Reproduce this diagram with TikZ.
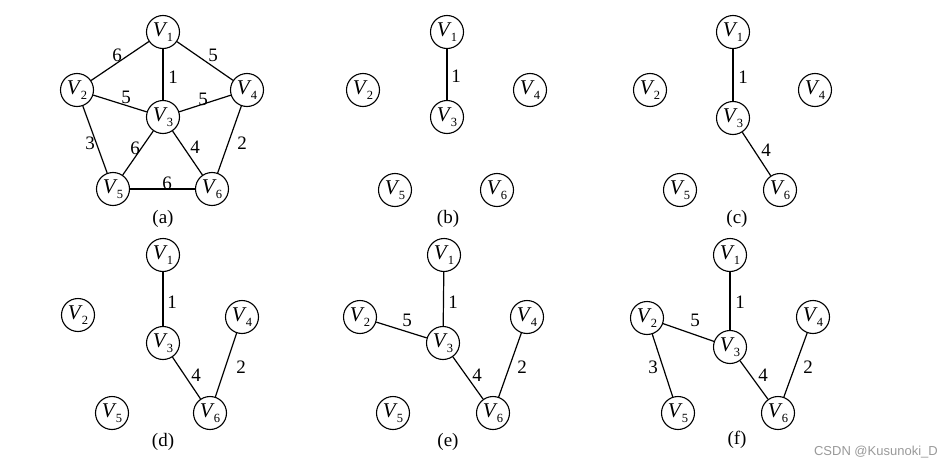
\documentclass[tikz,border=0pt]{standalone}
\usepackage{fontspec}
\setmainfont{Liberation Serif}
\newfontfamily\wmfont{Liberation Sans}
\newcommand{\vx}[1]{\textit{V}\kern-1pt\raisebox{-5pt}{\fontsize{12.5}{13}\selectfont #1}}
\begin{document}
\begin{tikzpicture}[x=1pt,y=-1pt,
  vnode/.style={circle,draw,line width=1.1pt,minimum size=33pt,inner sep=0pt,font=\fontsize{21}{22}\selectfont},
  edge/.style={line width=1.2pt},
  lbl/.style={font=\fontsize{19}{20}\selectfont,inner sep=0pt},
  panelcap/.style={font=\fontsize{19}{20}\selectfont,inner sep=0pt},
  wm/.style={font=\wmfont\fontsize{13}{14}\selectfont,text=black!40,inner sep=0pt}]
\useasboundingbox (0,0) rectangle (943,471);
% ---------- (a)
\node[vnode] (a1) at (163,32) {\vx{1}};
\node[vnode] (a2) at (77,90) {\vx{2}};
\node[vnode] (a3) at (163,117) {\vx{3}};
\node[vnode] (a4) at (247,90) {\vx{4}};
\node[vnode] (a5) at (113,189) {\vx{5}};
\node[vnode] (a6) at (212,189) {\vx{6}};
\draw[edge] (a1) -- (a2); \draw[edge] (a1) -- (a4); \draw[edge] (a1) -- (a3);
\draw[edge] (a2) -- (a3); \draw[edge] (a3) -- (a4); \draw[edge] (a2) -- (a5);
\draw[edge] (a3) -- (a5); \draw[edge] (a3) -- (a6); \draw[edge] (a4) -- (a6);
\draw[edge] (a5) -- (a6);
\node[lbl] (la12) at (117,55) {6};
\node[lbl] (la14) at (213,55) {5};
\node[lbl] (la13) at (173,77) {1};
\node[lbl] (la23) at (126,97) {5};
\node[lbl] (la34) at (203,99) {5};
\node[lbl] (la25) at (90,143) {3};
\node[lbl] (la35) at (135,148) {6};
\node[lbl] (la36) at (195,147) {4};
\node[lbl] (la46) at (242,143) {2};
\node[lbl] (la56) at (167,183) {6};
\node[panelcap] (ca) at (163,219) {(a)};
% ---------- (b)
\node[vnode] (b1) at (447,32) {\vx{1}};
\node[vnode] (b2) at (363,90) {\vx{2}};
\node[vnode] (b3) at (447,117) {\vx{3}};
\node[vnode] (b4) at (530,90) {\vx{4}};
\node[vnode] (b5) at (395,190) {\vx{5}};
\node[vnode] (b6) at (497,190) {\vx{6}};
\draw[edge] (b1) -- (b3);
\node[lbl] (lb13) at (456,76) {1};
\node[panelcap] (cb) at (448,219) {(b)};
% ---------- (c)
\node[vnode] (c1) at (733,32) {\vx{1}};
\node[vnode] (c2) at (650,90) {\vx{2}};
\node[vnode] (c3) at (733,118) {\vx{3}};
\node[vnode] (c4) at (815,90) {\vx{4}};
\node[vnode] (c5) at (680,190) {\vx{5}};
\node[vnode] (c6) at (780,190) {\vx{6}};
\draw[edge] (c1) -- (c3); \draw[edge] (c3) -- (c6);
\node[lbl] (lc13) at (743,77) {1};
\node[lbl] (lc36) at (766,150) {4};
\node[panelcap] (cc) at (737,219) {(c)};
% ---------- (d)
\node[vnode] (d1) at (163,255) {\vx{1}};
\node[vnode] (d2) at (78,315) {\vx{2}};
\node[vnode] (d3) at (163,343) {\vx{3}};
\node[vnode] (d4) at (242,317) {\vx{4}};
\node[vnode] (d5) at (112,413) {\vx{5}};
\node[vnode] (d6) at (210,413) {\vx{6}};
\draw[edge] (d1) -- (d3); \draw[edge] (d3) -- (d6); \draw[edge] (d4) -- (d6);
\node[lbl] (ld13) at (172,302) {1};
\node[lbl] (ld36) at (196,375) {4};
\node[lbl] (ld46) at (241,367) {2};
\node[panelcap] (cd) at (163,442) {(d)};
% ---------- (e)
\node[vnode] (e1) at (444,255) {\vx{1}};
\node[vnode] (e2) at (360,317) {\vx{2}};
\node[vnode] (e3) at (443,343) {\vx{3}};
\node[vnode] (e4) at (527,317) {\vx{4}};
\node[vnode] (e5) at (393,413) {\vx{5}};
\node[vnode] (e6) at (493,413) {\vx{6}};
\draw[edge] (e1) -- (e3); \draw[edge] (e2) -- (e3); \draw[edge] (e3) -- (e6); \draw[edge] (e4) -- (e6);
\node[lbl] (le13) at (453,302) {1};
\node[lbl] (le23) at (407,320) {5};
\node[lbl] (le36) at (477,375) {4};
\node[lbl] (le46) at (522,367) {2};
\node[panelcap] (ce) at (448,442) {(e)};
% ---------- (f)
\node[vnode] (f1) at (730,255) {\vx{1}};
\node[vnode] (f2) at (647,318) {\vx{2}};
\node[vnode] (f3) at (730,347) {\vx{3}};
\node[vnode] (f4) at (813,317) {\vx{4}};
\node[vnode] (f5) at (678,413) {\vx{5}};
\node[vnode] (f6) at (778,413) {\vx{6}};
\draw[edge] (f1) -- (f3); \draw[edge] (f2) -- (f3); \draw[edge] (f2) -- (f5);
\draw[edge] (f3) -- (f6); \draw[edge] (f4) -- (f6);
\node[lbl] (lf13) at (740,302) {1};
\node[lbl] (lf23) at (695,320) {5};
\node[lbl] (lf25) at (653,367) {3};
\node[lbl] (lf36) at (763,375) {4};
\node[lbl] (lf46) at (808,367) {2};
\node[panelcap] (cf) at (737,440) {(f)};
% ---------- watermark
\node[wm,anchor=east] (wm) at (938,452) {CSDN @Kusunoki\_D};
\end{tikzpicture}
\end{document}
